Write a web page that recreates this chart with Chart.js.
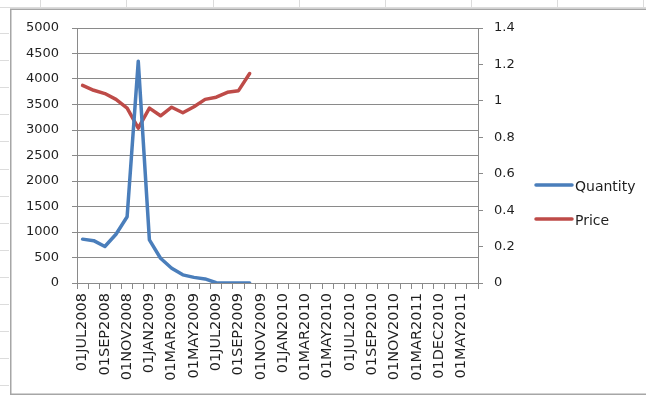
<!DOCTYPE html>
<html>
<head>
<meta charset="utf-8">
<script src="https://cdn.jsdelivr.net/npm/chart.js@4/dist/chart.umd.min.js"></script>
<style>
  html, body { margin: 0; padding: 0; background: #ffffff; overflow: hidden; }
  #wrap { width: 646px; height: 397px; position: relative; }
</style>
</head>
<body>
<div id="wrap"><canvas id="c" width="646" height="397"></canvas></div>
<script>
// Monthly periods on the category axis (every other one is labelled)
const periods = [
  '01JUL2008', '01AUG2008', '01SEP2008', '01OCT2008', '01NOV2008', '01DEC2008',
  '01JAN2009', '01FEB2009', '01MAR2009', '01APR2009', '01MAY2009', '01JUN2009',
  '01JUL2009', '01AUG2009', '01SEP2009', '01OCT2009', '01NOV2009', '01DEC2009',
  '01JAN2010', '01FEB2010', '01MAR2010', '01APR2010', '01MAY2010', '01JUN2010',
  '01JUL2010', '01AUG2010', '01SEP2010', '01OCT2010', '01NOV2010', '01JAN2011',
  '01MAR2011', '01FEB2011', '01DEC2010', '01APR2011', '01MAY2011', '01JUN2011'
];

// Quantity (left axis)
const quantity = [860, 830, 715, 955, 1300, 4350, 845, 485, 290, 160, 110, 80, 5, 0, 0, 0];

// Price (right axis)
const price = [1.085, 1.058, 1.040, 1.008, 0.960, 0.850, 0.960, 0.918, 0.965, 0.935, 0.968, 1.008, 1.020, 1.047, 1.056, 1.150];

const quantityTicks = { min: 0, max: 5000, step: 500 };
const priceTicks = { min: 0, max: 1.4, step: 0.2 };

const AXIS_GREY = '#8a8a8a';
const TEXT = '#1f1f1f';
const FONT = 'DejaVu Sans';

// Sheet background, cell separators and the chart frame
const framePlugin = {
  id: 'frame',
  beforeDraw(chart) {
    const ctx = chart.ctx;
    ctx.save();
    ctx.fillStyle = '#ffffff';
    ctx.fillRect(0, 0, chart.width, chart.height);
    ctx.strokeStyle = '#dcdcdc';
    ctx.lineWidth = 1;
    ctx.beginPath();
    ctx.moveTo(0, 7.5); ctx.lineTo(chart.width, 7.5);
    [40, 126, 213, 299, 385, 471, 557, 643].forEach(x => {
      ctx.moveTo(x + 0.5, 0); ctx.lineTo(x + 0.5, 7);
    });
    for (let k = 0; k < 14; k++) {
      const y = Math.round(33 + 27.1 * k) + 0.5;
      ctx.moveTo(0, y); ctx.lineTo(9, y);
    }
    ctx.stroke();
    ctx.strokeStyle = '#a6a6a6';
    ctx.lineWidth = 1.5;
    ctx.beginPath();
    ctx.moveTo(chart.width + 5, 9.25);
    ctx.lineTo(10.75, 9.25);
    ctx.lineTo(10.75, 394.25);
    ctx.lineTo(chart.width + 5, 394.25);
    ctx.stroke();
    ctx.restore();
  }
};

// Legend to the right of the plot
const legendPlugin = {
  id: 'sideLegend',
  afterDraw(chart) {
    const ctx = chart.ctx;
    const rows = [185, 219];
    ctx.save();
    chart.data.datasets.forEach((ds, i) => {
      const y = rows[i];
      ctx.strokeStyle = ds.borderColor;
      ctx.lineWidth = ds.borderWidth;
      ctx.lineCap = 'round';
      ctx.beginPath();
      ctx.moveTo(536, y);
      ctx.lineTo(572, y);
      ctx.stroke();
      ctx.fillStyle = TEXT;
      ctx.font = '14px "' + FONT + '"';
      ctx.textBaseline = 'middle';
      ctx.textAlign = 'left';
      ctx.fillText(ds.label, 575, y + 2);
    });
    ctx.restore();
  }
};

new Chart(document.getElementById('c'), {
  type: 'line',
  data: {
    labels: periods,
    datasets: [
      {
        label: 'Quantity',
        data: quantity,
        yAxisID: 'yQ',
        borderColor: '#4a7ebb',
        borderWidth: 3.5,
        pointRadius: 0,
        tension: 0,
        borderJoinStyle: 'round',
        borderCapStyle: 'round'
      },
      {
        label: 'Price',
        data: price,
        yAxisID: 'yP',
        borderColor: '#be4b48',
        borderWidth: 3.5,
        pointRadius: 0,
        tension: 0,
        borderJoinStyle: 'round',
        borderCapStyle: 'round'
      }
    ]
  },
  options: {
    responsive: false,
    animation: false,
    layout: { padding: { top: 28, left: 0, right: 0, bottom: 0 } },
    plugins: {
      legend: { display: false },
      tooltip: { enabled: false }
    },
    scales: {
      x: {
        type: 'category',
        offset: true,
        grid: {
          offset: true,
          drawOnChartArea: false,
          drawTicks: true,
          tickLength: 6,
          color: AXIS_GREY
        },
        border: { color: AXIS_GREY, width: 1 },
        ticks: {
          autoSkip: false,
          maxRotation: 90,
          minRotation: 90,
          padding: 4,
          color: TEXT,
          font: { family: FONT, size: 14.5 },
          callback: (v, i) => (i % 2 === 0 ? periods[i] : '')
        },
        afterFit(scale) { scale.height = 114; }
      },
      yQ: {
        position: 'left',
        min: quantityTicks.min,
        max: quantityTicks.max,
        grid: { color: AXIS_GREY, tickLength: 5 },
        border: { color: AXIS_GREY, width: 1 },
        ticks: {
          stepSize: quantityTicks.step,
          padding: 13,
          color: TEXT,
          font: { family: FONT, size: 13 },
          callback: v => String(v)
        },
        afterFit(scale) { scale.width = 77; }
      },
      yP: {
        position: 'right',
        min: priceTicks.min,
        max: priceTicks.max,
        grid: { drawOnChartArea: false, color: AXIS_GREY, tickLength: 5 },
        border: { color: AXIS_GREY, width: 1 },
        ticks: {
          stepSize: priceTicks.step,
          padding: 11,
          color: TEXT,
          font: { family: FONT, size: 13 },
          callback: v => String(+v.toFixed(1))
        },
        afterFit(scale) { scale.width = 168; }
      }
    }
  },
  plugins: [framePlugin, legendPlugin]
});
</script>
</body>
</html>
